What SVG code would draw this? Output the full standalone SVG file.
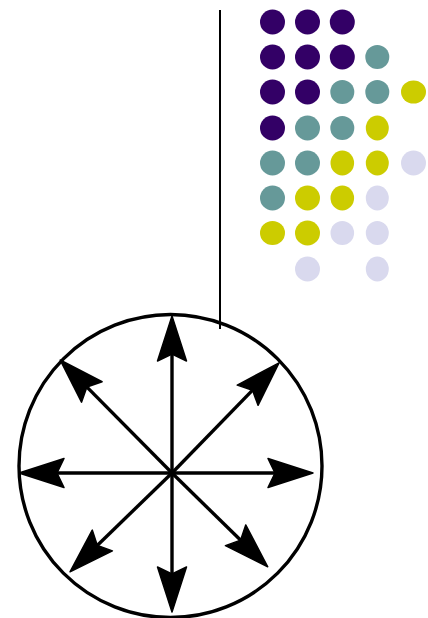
<svg xmlns="http://www.w3.org/2000/svg" width="428" height="618" viewBox="0 0 428 618">
<style>
.p{fill:#330066}.t{fill:#669999}.y{fill:#cccc00}.l{fill:#d9d9ee}
.ln{stroke:#000;stroke-width:3.4;fill:none}
.hd{fill:#000;stroke:#000;stroke-width:1.5;stroke-linejoin:round}
</style>
<defs>
<g id="arrowhead"><path class="hd" d="M0,0 L-45,-14.5 L-38,0 L-45,14.5 Z"/></g>
</defs>
<rect width="428" height="618" fill="#fff"/>
<g id="dots">
<circle class="p" cx="272.5" cy="22" r="12.5"/><circle class="p" cx="307.5" cy="22" r="12.5"/><circle class="p" cx="342.3" cy="22" r="12.5"/>
<circle class="p" cx="272.5" cy="57" r="12.5"/><circle class="p" cx="307.5" cy="57" r="12.5"/><circle class="p" cx="342.3" cy="57" r="12.5"/><circle class="t" cx="377.3" cy="57" r="12"/>
<circle class="p" cx="272.5" cy="92" r="12.5"/><circle class="p" cx="307.5" cy="92" r="12.5"/><circle class="t" cx="342.3" cy="92" r="12"/><circle class="t" cx="377.3" cy="92" r="12"/><ellipse class="y" cx="413.5" cy="92" rx="12.5" ry="11.5"/>
<circle class="p" cx="272.5" cy="128" r="12.5"/><circle class="t" cx="307.5" cy="128" r="12.5"/><circle class="t" cx="342.3" cy="128" r="12"/><ellipse class="y" cx="377.3" cy="128" rx="11.5" ry="12.5"/>
<circle class="t" cx="272.5" cy="163" r="12.5"/><circle class="t" cx="307.5" cy="163" r="12.5"/><ellipse class="y" cx="342.3" cy="163" rx="11.8" ry="12.5"/><ellipse class="y" cx="377.3" cy="163" rx="11.5" ry="12.5"/><circle class="l" cx="413.5" cy="163" r="12.5"/>
<circle class="t" cx="272.5" cy="198" r="12.5"/><circle class="y" cx="307.5" cy="198" r="12.5"/><ellipse class="y" cx="342.3" cy="198" rx="11.8" ry="12.5"/><ellipse class="l" cx="377.3" cy="198" rx="11.5" ry="12.5"/>
<ellipse class="y" cx="272.5" cy="233" rx="12.5" ry="12"/><circle class="y" cx="307.5" cy="233" r="12.5"/><ellipse class="l" cx="342.3" cy="233" rx="11.8" ry="12"/><ellipse class="l" cx="377.3" cy="233" rx="11.5" ry="12"/>
<circle class="l" cx="307.5" cy="269" r="12.5"/><ellipse class="l" cx="377.3" cy="269" rx="11.5" ry="12.5"/>
</g>
<g id="vline"><line x1="220" y1="10" x2="220" y2="329" stroke="#000" stroke-width="2"/></g>
<g id="circle"><circle cx="170.5" cy="466" r="151.5" fill="none" stroke="#000" stroke-width="3.4"/></g>
<g id="connectors">
<g transform="translate(172,473) rotate(-90)"><line class="ln" x1="0" y1="0" x2="122" y2="0"/><use href="#arrowhead" x="157"/></g>
<g transform="translate(172,473) rotate(90)"><line class="ln" x1="0" y1="0" x2="104" y2="0"/><use href="#arrowhead" x="139"/></g>
<g transform="translate(172,473) rotate(180)"><line class="ln" x1="0" y1="0" x2="118" y2="0"/><use href="#arrowhead" x="153"/></g>
<g transform="translate(172,473) rotate(0)"><line class="ln" x1="0" y1="0" x2="106" y2="0"/><use href="#arrowhead" x="141"/></g>
<g transform="translate(172,473) rotate(-45.8)"><line class="ln" x1="0" y1="0" x2="118" y2="0"/><use href="#arrowhead" x="153.5"/></g>
<g transform="translate(172,473) rotate(-134.7)"><line class="ln" x1="0" y1="0" x2="124" y2="0"/><use href="#arrowhead" x="159"/></g>
<g transform="translate(172,473) rotate(135.9)"><line class="ln" x1="0" y1="0" x2="107" y2="0"/><use href="#arrowhead" x="142"/></g>
<g transform="translate(172,473) rotate(44.4)"><line class="ln" x1="0" y1="0" x2="99" y2="0"/><use href="#arrowhead" x="134"/></g>
</g>
</svg>
